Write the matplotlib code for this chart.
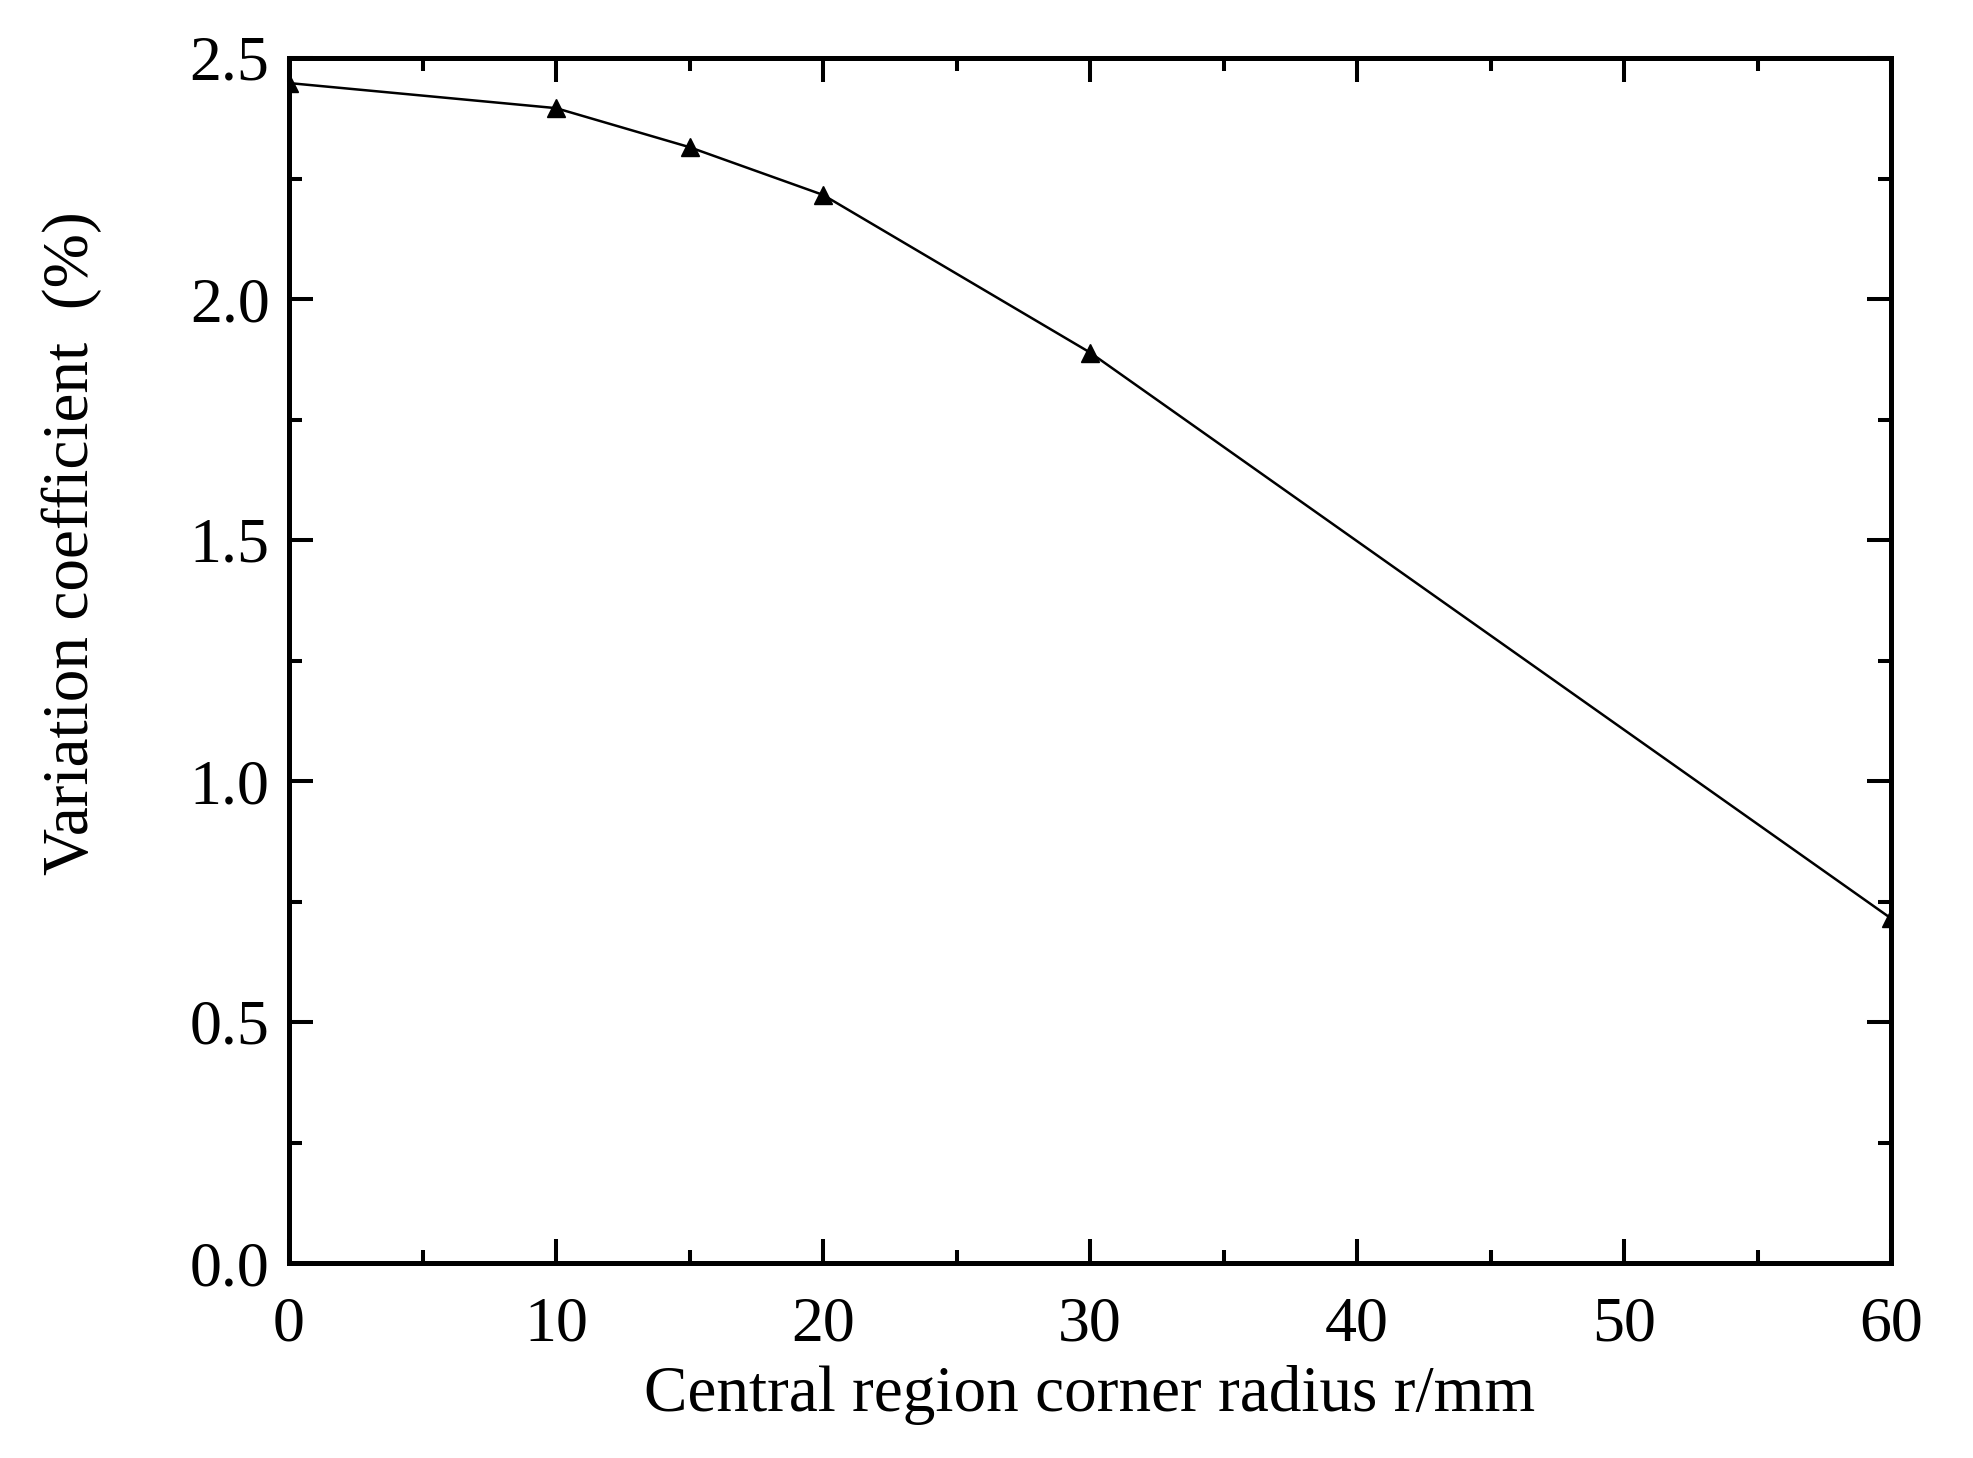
import matplotlib.pyplot as plt
from matplotlib.ticker import MultipleLocator

# 中心区域圆角半径与变异系数
radius = [0, 10, 15, 20, 30, 60]
cv = [2.448, 2.396, 2.315, 2.216, 1.889, 0.715]

xticks = [0, 10, 20, 30, 40, 50, 60]
yticks = [0.0, 0.5, 1.0, 1.5, 2.0, 2.5]

plt.rcParams["font.family"] = ["Liberation Serif", "DejaVu Serif"]

fig = plt.figure(figsize=(19.73, 14.58), dpi=100)
ax = fig.add_axes([289 / 1973, 1 - 1263 / 1458, (1891 - 289) / 1973, (1263 - 58) / 1458])

ax.plot(radius, cv, color="black", linewidth=1.8, marker="^", markersize=13)

ax.set_xlim(0, 60)
ax.set_ylim(0, 2.5)
ax.set_xticks(xticks)
ax.set_yticks(yticks)
ax.set_yticklabels([f"{v:.1f}" for v in yticks])
ax.xaxis.set_minor_locator(MultipleLocator(5))
ax.yaxis.set_minor_locator(MultipleLocator(0.25))

for side in ax.spines.values():
    side.set_linewidth(3.6)

ax.tick_params(which="both", direction="in", top=True, right=True, width=2.9, labelsize=46)
ax.tick_params(which="major", length=17, pad=14)
ax.tick_params(axis="x", which="major", pad=24)
ax.tick_params(which="minor", length=9.5)

ax.set_xlabel("Central region corner radius r/mm", fontsize=47, labelpad=8)
ax.set_ylabel("Variation coefficient  (%)", fontsize=47)
ax.yaxis.set_label_coords(-0.117, 0.597)

plt.savefig("out.png", dpi=100)
plt.close()
